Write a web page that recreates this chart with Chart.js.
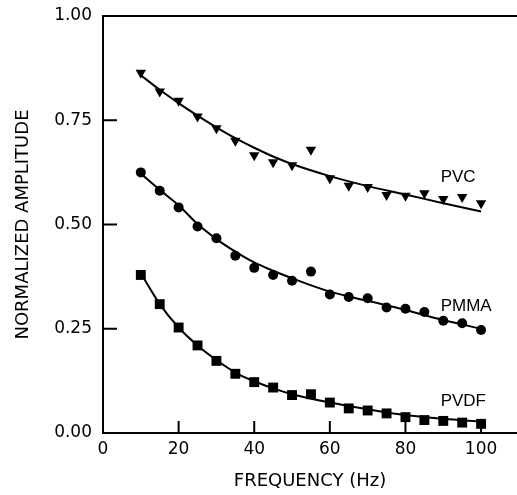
<!DOCTYPE html>
<html>
<head>
<meta charset="utf-8">
<script src="https://cdn.jsdelivr.net/npm/chart.js@4.4.1/dist/chart.umd.min.js"></script>
<style>
  html, body { margin: 0; padding: 0; background: #fff; }
  #wrap { width: 517px; height: 495px; }
</style>
</head>
<body>
<div id="wrap"><canvas id="grafico"></canvas></div>
<script>
// measured points (Hz, normalized amplitude)
const freq = [10, 15, 20, 25, 30, 35, 40, 45, 50, 55, 60, 65, 70, 75, 80, 85, 90, 95, 100];
const pvc  = [0.864, 0.819, 0.797, 0.759, 0.731, 0.701, 0.666, 0.649, 0.642, 0.679, 0.611, 0.593, 0.590, 0.571, 0.569, 0.575, 0.561, 0.566, 0.551];
const pmma = [0.625, 0.581, 0.541, 0.495, 0.467, 0.425, 0.396, 0.379, 0.365, 0.387, 0.332, 0.326, 0.323, 0.301, 0.298, 0.290, 0.269, 0.263, 0.247];
const pvdf = [0.379, 0.309, 0.253, 0.210, 0.173, 0.142, 0.122, 0.109, 0.091, 0.093, 0.073, 0.059, 0.054, 0.047, 0.038, 0.031, 0.029, 0.025, 0.022];

// fitted curves
const fitFreq = [10, 15, 20, 25, 30, 35, 40, 45, 50, 60, 70, 80, 90, 100];
const pvcFit  = [0.858, 0.823, 0.791, 0.761, 0.733, 0.707, 0.684, 0.663, 0.645, 0.616, 0.592, 0.572, 0.551, 0.531];
const pmmaFit = [0.622, 0.583, 0.546, 0.501, 0.465, 0.435, 0.409, 0.389, 0.371, 0.339, 0.317, 0.295, 0.271, 0.250];
const pvdfFit = [0.383, 0.309, 0.253, 0.210, 0.175, 0.145, 0.124, 0.107, 0.093, 0.073, 0.057, 0.043, 0.034, 0.027];

const xTicks = [0, 20, 40, 60, 80, 100];
const yTicks = [0, 0.25, 0.5, 0.75, 1];
const seriesNames = ['PVC', 'PMMA', 'PVDF'];

const pares = (xs, ys) => xs.map((v, i) => ({ x: v, y: ys[i] }));

function pontos(data, style, radius) {
    return {
        type: 'scatter',
        data: pares(freq, data),
        pointStyle: style,
        pointRadius: radius,
        pointRotation: style === 'triangle' ? 180 : 0,
        backgroundColor: '#000',
        borderColor: '#000',
        borderWidth: 0,
        showLine: false
    };
}

function curva(data) {
    return {
        type: 'line',
        data: pares(fitFreq, data),
        borderColor: '#000',
        borderWidth: 2,
        pointRadius: 0,
        fill: false,
        cubicInterpolationMode: 'monotone'
    };
}

const fonte = { family: '"DejaVu Sans", sans-serif', size: 17 };

// frame (left, bottom, top), inward ticks, x tick labels and curve labels
const moldura = {
    id: 'moldura',
    afterDraw(chart) {
        const { ctx, chartArea: a, scales: { x, y } } = chart;
        ctx.save();
        ctx.strokeStyle = '#000';
        ctx.lineWidth = 2;
        ctx.beginPath();
        ctx.moveTo(a.right, a.top);
        ctx.lineTo(a.left, a.top);
        ctx.lineTo(a.left, a.bottom);
        ctx.lineTo(a.right, a.bottom);
        y.ticks.forEach(t => {
            if (t.value > 0 && t.value < 1) {
                const py = y.getPixelForValue(t.value);
                ctx.moveTo(a.left, py);
                ctx.lineTo(a.left + 14, py);
            }
        });
        x.ticks.forEach(t => {
            if (t.value > 0) {
                const px = x.getPixelForValue(t.value);
                ctx.moveTo(px, a.bottom);
                ctx.lineTo(px, a.bottom - 12);
            }
        });
        ctx.stroke();

        ctx.fillStyle = '#000';
        ctx.font = fonte.size + 'px ' + fonte.family;
        ctx.textAlign = 'center';
        ctx.textBaseline = 'top';
        x.ticks.forEach(t => {
            ctx.fillText(String(t.value), x.getPixelForValue(t.value), a.bottom + 8);
        });

        ctx.font = '17px "Liberation Sans", Arial, sans-serif';
        ctx.textAlign = 'left';
        ctx.textBaseline = 'middle';
        const onde = [[89.3, 0.612], [89.3, 0.305], [89.3, 0.076]];
        seriesNames.forEach((nome, i) => {
            ctx.fillText(nome, x.getPixelForValue(onde[i][0]), y.getPixelForValue(onde[i][1]));
        });
        ctx.restore();
    }
};

new Chart(document.getElementById('grafico'), {
    data: {
        datasets: [
            curva(pvcFit), curva(pmmaFit), curva(pvdfFit),
            pontos(pvc, 'triangle', 6),
            pontos(pmma, 'circle', 5),
            pontos(pvdf, 'rect', 7)
        ]
    },
    options: {
        responsive: true,
        maintainAspectRatio: false,
        animation: false,
        layout: { autoPadding: false, padding: { top: 16, right: 0, left: 0, bottom: 0 } },
        plugins: { legend: { display: false }, tooltip: { enabled: false } },
        scales: {
            x: {
                type: 'linear',
                min: 0,
                max: 109.5,
                afterBuildTicks: s => { s.ticks = xTicks.map(v => ({ value: v })); },
                afterFit: s => { s.height = 62; s.paddingLeft = 0; s.paddingRight = 0; },
                grid: { display: false, drawTicks: false },
                border: { display: false },
                ticks: { display: false },
                title: { display: true, text: 'FREQUENCY (Hz)', color: '#000',
                         font: { family: '"DejaVu Sans", sans-serif', size: 18 },
                         padding: { top: 0, bottom: 3 } }
            },
            y: {
                type: 'linear',
                min: 0,
                max: 1,
                afterBuildTicks: s => { s.ticks = yTicks.map(v => ({ value: v })); },
                afterFit: s => { s.width = 103; s.paddingTop = 0; s.paddingBottom = 0; },
                grid: { display: false, drawTicks: false },
                border: { display: false },
                ticks: { color: '#000', font: fonte, padding: 11,
                         callback: v => v.toFixed(2) },
                title: { display: true, text: 'NORMALIZED AMPLITUDE', color: '#000',
                         font: { family: '"DejaVu Sans", sans-serif', size: 18 },
                         padding: { top: 13, bottom: 0 } }
            }
        }
    },
    plugins: [moldura]
});
</script>
</body>
</html>
